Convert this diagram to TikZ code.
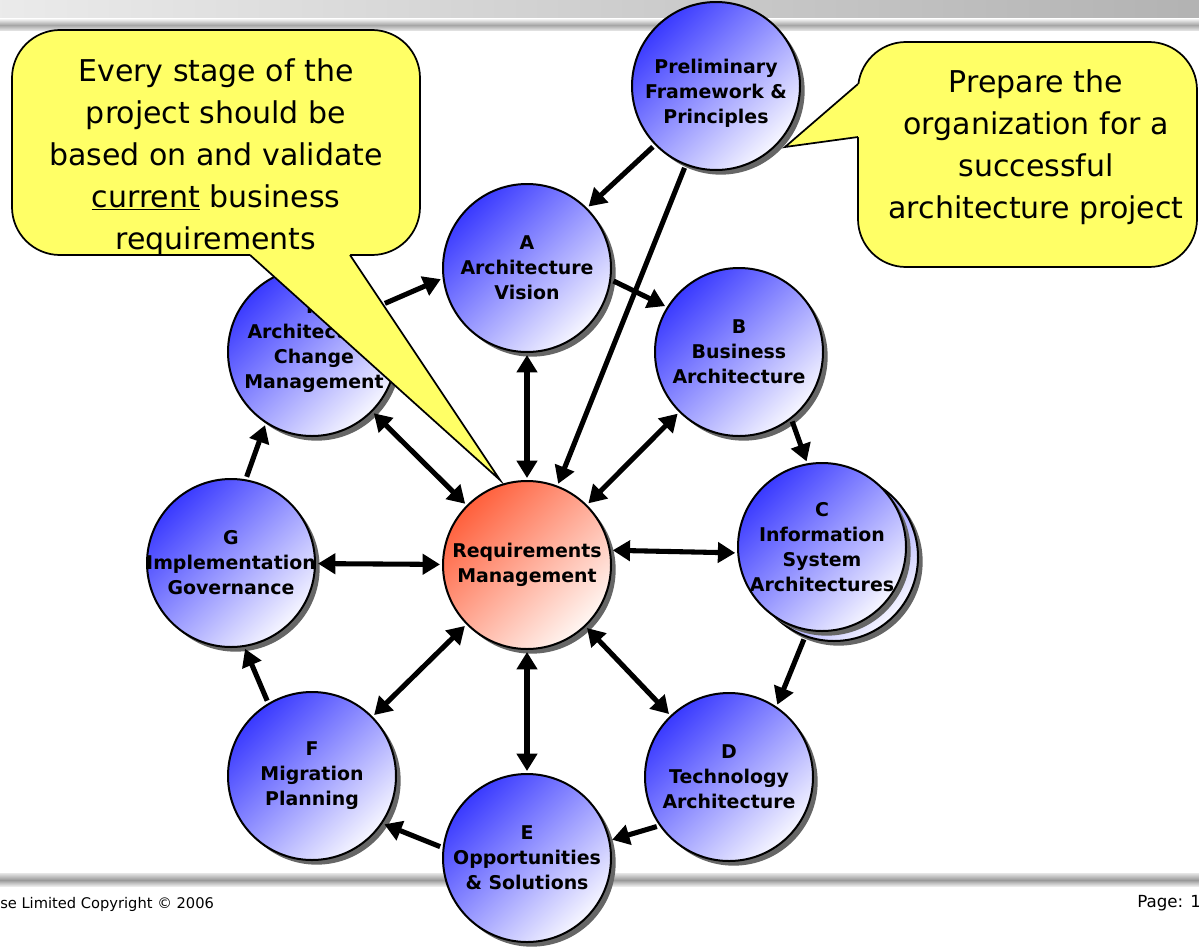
\documentclass[tikz,border=0pt]{standalone}
\usepackage{fontspec}
\setmainfont{DejaVu Sans}
\usetikzlibrary{arrows.meta,shadows}
\definecolor{blueA}{RGB}{58,58,255}
\definecolor{blueB}{RGB}{246,246,255}
\definecolor{redA}{RGB}{255,96,60}
\definecolor{redB}{RGB}{255,246,242}
\definecolor{calloutY}{RGB}{255,255,102}
\begin{document}
\begin{tikzpicture}[x=0.75pt,y=-0.75pt,
  stagefont/.style={align=center, font=\bfseries\fontsize{14.2}{18.7}\selectfont, inner sep=0pt},
  stage/.style={circle, draw=black, line width=1.5pt, minimum size=126pt, inner sep=0pt,
    top color=blueA, bottom color=blueB, shading angle=45,
    drop shadow={shadow xshift=3.5pt, shadow yshift=-3.5pt, fill=black!60, opacity=1}},
  reqstage/.style={stage, top color=redA, bottom color=redB, shading angle=45},
  conn/.style={line width=3.8pt, -{Triangle[length=13pt,width=15pt]}, shorten >=1.5pt, shorten <=2pt},
  bi/.style={line width=3.8pt, {Triangle[length=13pt,width=15pt]}-{Triangle[length=13pt,width=15pt]}, shorten >=1.5pt, shorten <=1.5pt},
  calloutbody/.style={draw=black, line width=1.3pt, fill=calloutY, rounded corners=36pt, inner sep=0pt},
  callouttext/.style={align=center, font=\fontsize{22.5}{31.5}\selectfont, inner sep=0pt},
  tailfill/.style={fill=calloutY},
  tailline/.style={draw=black, line width=1.3pt, line join=miter},
  footer/.style={font=\fontsize{11}{13}\selectfont, inner sep=0pt}
]
\useasboundingbox (0,0) rectangle (1199,946);
\clip (0,0) rectangle (1199,946);
\fill[white] (0,0) rectangle (1199,946);

% top bar
\shade[left color=black!8, right color=black!30] (0,0) rectangle (1199,18);
\shade[top color=white, bottom color=black!35] (0,18) rectangle (1199,25);
\shade[top color=black!35, bottom color=black!12] (0,25) rectangle (1199,30);

% bottom bar
\shade[top color=black!10, bottom color=black!40] (0,873) rectangle (1199,880);
\shade[top color=black!40, bottom color=black!8] (0,880) rectangle (1199,886);

% footer
\node[footer, anchor=west] (copy) at (0,904) {se Limited Copyright © 2006};
\node[footer, anchor=west, font=\fontsize{12.5}{14}\selectfont] (page) at (1137,903) {Page: 1};

% stages
\node[stage] (P) at (716,86) {};
\node[stagefont] (Pt) at (716,93) {Preliminary\\Framework \&\\Principles};
\node[stage] (A) at (527,268) {};
\node[stagefont] (At) at (A) {A\\Architecture\\Vision};
\node[stage] (B) at (739,352) {};
\node[stagefont] (Bt) at (B) {B\\Business\\Architecture};
\node[stage] (C2) at (834,557) {};
\node[stage] (C) at (822,547) {};
\node[stagefont] (Ct) at (C) {C\\Information\\System\\Architectures};
\node[stage] (D) at (729,777) {};
\node[stagefont] (Dt) at (D) {D\\Technology\\Architecture};
\node[stage] (E) at (527,858) {};
\node[stagefont] (Et) at (E) {E\\Opportunities\\\& Solutions};
\node[stage] (F) at (312,776) {};
\node[stagefont] (Ft) at (F) {F\\Migration\\Planning};
\node[stage] (G) at (231,563) {};
\node[stagefont] (Gt) at (G) {G\\Implementation\\Governance};
\node[stage] (H) at (312,352) {};
\node[stagefont] (Ht) at (314,346) {H\\Architecture\\Change\\Management};
\node[reqstage] (R) at (527,565) {};
\node[stagefont] (Rt) at (R) {Requirements\\Management};

% cycle arrows
\draw[conn] (P.224) -- (A.45);
\draw[conn] (P.249) -- (R.69);
\draw[conn] (A.-8) -- (B.148);
\draw[conn] (B.-52) -- (C.100);
\draw[conn] (C2.250) -- (D.56);
\draw[conn] (D.215) -- (E.12);
\draw[conn] (E.173) -- (F.-34);
\draw[conn] (F.121) -- (G.-81);
\draw[conn] (G.80) -- (H.237);
\draw[conn] (H.34) -- (A.187);

% requirements links
\draw[bi] (R) -- (A);
\draw[bi] (R) -- (B);
\draw[bi] (R.10) -- (C.184);
\draw[bi] (R) -- (D);
\draw[bi] (R) -- (E);
\draw[bi] (R) -- (F);
\draw[bi] (R) -- (G);
\draw[bi] (R) -- (H);

% left callout
\node[calloutbody, minimum width=306pt, minimum height=168.75pt] (LC) at (216,142.5) {};
\coordinate (LT1) at (250,255);
\coordinate (LT2) at (350,255);
\coordinate (LTip) at (500,480);
\fill[tailfill] ([yshift=3pt]LT1) -- (LT1) -- (LTip) -- (LT2) -- ([yshift=3pt]LT2) -- cycle;
\draw[tailline] (LT1) -- (LTip) -- (LT2);
\node[callouttext] (LText) at (216,157) {Every stage of the\\project should be\\based on and validate\\\underline{current} business\\requirements};

% right callout
\node[calloutbody, minimum width=254.25pt, minimum height=168.75pt] (RC) at (1027.5,154.5) {};
\coordinate (RT1) at (858,84);
\coordinate (RT2) at (858,137);
\coordinate (RTip) at (785,147);
\fill[tailfill] ([xshift=3pt]RT1) -- (RT1) -- (RTip) -- (RT2) -- ([xshift=3pt]RT2) -- cycle;
\draw[tailline] (RT1) -- (RTip) -- (RT2);
\node[callouttext] (RText) at (1036,147) {Prepare the\\organization for a\\successful\\architecture project};
\end{tikzpicture}
\end{document}
